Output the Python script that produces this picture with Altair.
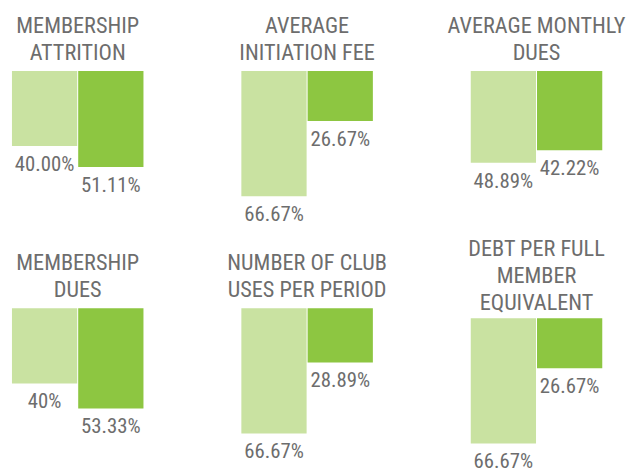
import altair as alt
import pandas as pd

# ---- data ----
titles = [
    ["MEMBERSHIP", "ATTRITION"],
    ["AVERAGE", "INITIATION FEE"],
    ["AVERAGE MONTHLY", "DUES"],
    ["MEMBERSHIP", "DUES"],
    ["NUMBER OF CLUB", "USES PER PERIOD"],
    ["DEBT PER FULL", "MEMBER", "EQUIVALENT"],
]
series = ["first", "second"]
first_values = [40.00, 66.67, 48.89, 40.00, 66.67, 66.67]
second_values = [51.11, 26.67, 42.22, 53.33, 28.89, 26.67]
first_labels = ["40.00%", "66.67%", "48.89%", "40%", "66.67%", "66.67%"]
second_labels = ["51.11%", "26.67%", "42.22%", "53.33%", "28.89%", "26.67%"]

LIGHT = "#c9e2a1"
DARK = "#8dc641"
GREY = "#6d6d6d"
FONT = "Roboto Condensed, Liberation Sans Narrow, DejaVu Sans Condensed, sans-serif"

PANEL_W = 133
PANEL_H = 154
PX_PER_PCT = 1.9


def panel(i, shift=0.0, title_offset=7):
    df = pd.DataFrame({
        "series": series,
        "value": [first_values[i], second_values[i]],
        "label": [first_labels[i], second_labels[i]],
    })
    lo = -shift
    hi = PANEL_H / PX_PER_PCT - shift
    x = alt.X("series:N", axis=None, sort=series,
              scale=alt.Scale(paddingInner=0.0149, paddingOuter=0))
    y = alt.Y("value:Q", axis=None,
              scale=alt.Scale(domain=[lo, hi], reverse=True, nice=False, zero=False))
    base = alt.Chart(df).encode(x=x, y=y)
    bars = base.mark_bar().encode(
        color=alt.Color("series:N", legend=None,
                        scale=alt.Scale(domain=series, range=[LIGHT, DARK]))
    )
    text = base.mark_text(baseline="top", dy=8, font=FONT, fontSize=21,
                          color=GREY).encode(text="label:N")
    return alt.layer(bars, text).properties(
        width=PANEL_W, height=PANEL_H,
        title=alt.TitleParams(text=titles[i], font=FONT, fontSize=22.5,
                              fontWeight="normal", color=GREY, lineHeight=27,
                              anchor="middle", offset=title_offset),
    )


chart = alt.concat(
    panel(0), panel(1), panel(2),
    panel(3), panel(4), panel(5, shift=5.3, title_offset=-6),
    columns=3, spacing={"row": 86, "column": 99}, bounds="flush",
).properties(
    padding={"left": 4, "top": 4, "right": 0, "bottom": 0}
).configure_view(stroke=None)

chart.save("out.html", embed_options={"renderer": "svg", "actions": False})
